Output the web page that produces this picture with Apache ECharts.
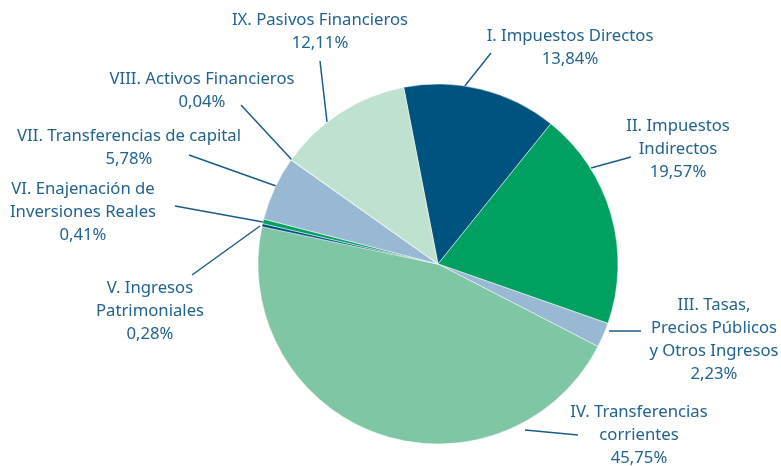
<!DOCTYPE html>
<html>
<head>
<meta charset="utf-8">
<script src="https://cdn.jsdelivr.net/npm/echarts@6/dist/echarts.min.js"></script>
<style>
  html, body { margin: 0; padding: 0; background: #fff; }
  #chart { width: 781px; height: 466px; }
</style>
</head>
<body>
<div id="chart"></div>
<script>
const names = [
  'I. Impuestos Directos',
  'II. Impuestos\nIndirectos',
  'III. Tasas,\nPrecios Públicos\ny Otros Ingresos',
  'IV. Transferencias\ncorrientes',
  'V. Ingresos\nPatrimoniales',
  'VI. Enajenación de\nInversiones Reales',
  'VII. Transferencias de capital',
  'VIII. Activos Financieros',
  'IX. Pasivos Financieros'
]
const values = [13.84, 19.57, 2.23, 45.75, 0.28, 0.41, 5.78, 0.04, 12.11]
const colors = ['#00527f', '#00a160', '#98b8d4', '#7fc6a4', '#00527f', '#00a160', '#98b8d4', '#7fc6a4', '#bfe1cf']

// label placement (centre of text block) and leader line ends
const labelPos = [
  [570, 48], [678, 149], [714, 340], [639, 435], [150, 311],
  [83, 212], [129, 148], [202, 91], [320, 32]
]
const linePts = [
  [[464, 87], [491, 53]],
  [[591, 168], [631, 157]],
  [[609, 331], [641, 331]],
  [[525, 430], [578, 435]],
  [[260, 226], [192, 275]],
  [[263, 222], [175, 206]],
  [[276, 186], [189, 155]],
  [[292, 160], [241, 105]],
  [[327, 122], [320, 61]]
]

const chart = echarts.init(document.getElementById('chart'))
chart.setOption({
  animation: false,
  series: [
    {
      type: 'pie',
      center: [438, 264],
      radius: 180,
      startAngle: 101,
      clockwise: true,
      avoidLabelOverlap: false,
      itemStyle: {
        borderColor: '#fff',
        borderWidth: 0.5
      },
      label: {
        show: true,
        formatter: p => p.name + '\n' + p.value.toFixed(2).replace('.', ',') + '%',
        color: '#226390',
        fontFamily: 'Noto Sans',
        fontSize: 16.7,
        lineHeight: 23,
        align: 'center'
      },
      labelLine: {
        show: true,
        lineStyle: { color: '#1b5c88', width: 1.5 }
      },
      labelLayout: params => {
        const i = params.dataIndex
        const l = linePts[i]
        return {
          x: labelPos[i][0],
          y: labelPos[i][1],
          align: 'center',
          verticalAlign: 'middle',
          labelLinePoints: [l[0], l[0], l[1]]
        }
      },
      data: names.map((n, i) => ({
        name: n,
        value: values[i],
        itemStyle: { color: colors[i] }
      }))
    }
  ]
})
</script>
</body>
</html>
